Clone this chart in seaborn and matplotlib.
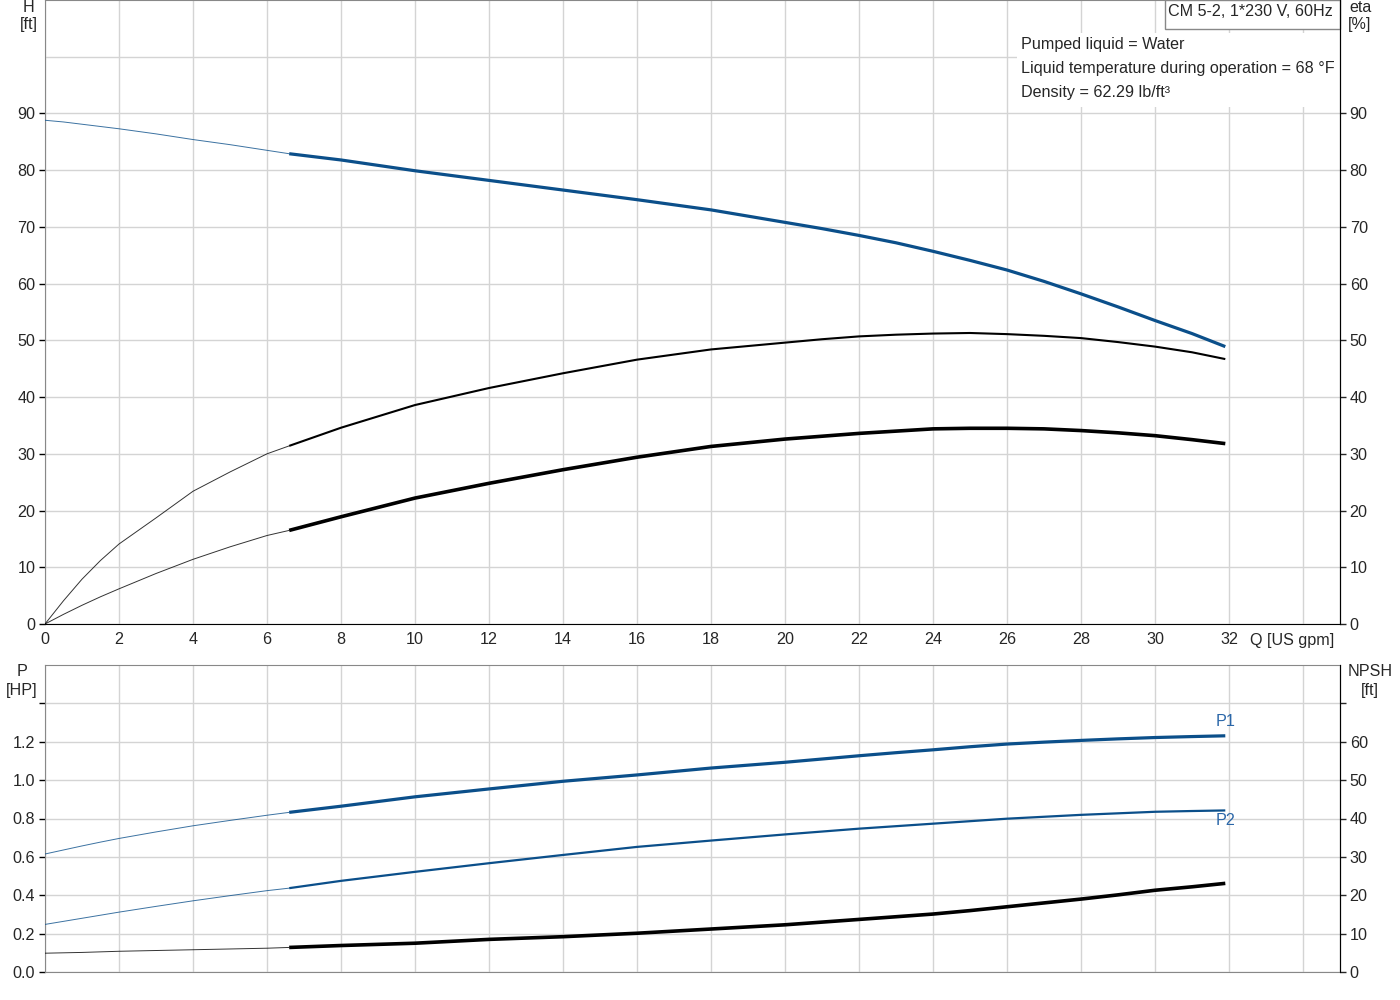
import numpy as np
import pandas as pd
import matplotlib
matplotlib.use("Agg")
import matplotlib.pyplot as plt
from matplotlib.patches import Rectangle
import seaborn as sns

# flow points (US gpm); thick part starts at 6.6 gpm
q = [0, 0.5, 1, 1.5, 2, 3, 4, 5, 6, 6.6, 8, 10, 12, 14, 16, 18, 20, 21, 22, 23, 24, 25,
     26, 27, 28, 29, 30, 31, 31.9]
head = [88.8, 88.5, 88.1, 87.7, 87.3, 86.4, 85.4, 84.5, 83.5, 82.9, 81.8, 79.9, 78.2,
        76.5, 74.8, 73.0, 70.8, 69.7, 68.5, 67.2, 65.7, 64.1, 62.4, 60.4, 58.2, 55.9,
        53.5, 51.2, 48.9]
eta_pump = [0, 4.1, 7.9, 11.2, 14.1, 18.7, 23.4, 26.8, 30.0, 31.4, 34.6, 38.6, 41.6,
            44.2, 46.6, 48.4, 49.6, 50.2, 50.7, 51.0, 51.2, 51.3, 51.1, 50.8, 50.4, 49.7,
            48.9, 47.9, 46.7]
eta_total = [0, 1.7, 3.3, 4.8, 6.2, 8.9, 11.4, 13.6, 15.6, 16.5, 18.9, 22.2, 24.8, 27.2,
             29.4, 31.3, 32.6, 33.1, 33.6, 34.0, 34.4, 34.5, 34.5, 34.4, 34.1, 33.7,
             33.2, 32.5, 31.8]
p1 = [0.615, 0.636, 0.657, 0.677, 0.696, 0.730, 0.762, 0.790, 0.817, 0.832, 0.864, 0.913,
      0.954, 0.994, 1.027, 1.063, 1.093, 1.110, 1.127, 1.143, 1.158, 1.174, 1.188, 1.198,
      1.207, 1.215, 1.222, 1.227, 1.231]
p2 = [0.248, 0.264, 0.280, 0.296, 0.312, 0.342, 0.371, 0.398, 0.424, 0.437, 0.475, 0.522,
      0.567, 0.610, 0.652, 0.685, 0.717, 0.732, 0.747, 0.760, 0.773, 0.786, 0.799, 0.809,
      0.819, 0.827, 0.835, 0.839, 0.842]
npsh = [4.9, 5.0, 5.1, 5.25, 5.4, 5.6, 5.8, 6.0, 6.2, 6.4, 6.9, 7.5, 8.5, 9.2, 10.1, 11.2,
        12.3, 13.0, 13.7, 14.4, 15.1, 16.0, 17.0, 18.0, 19.0, 20.1, 21.3, 22.2, 23.1]
split = q.index(6.6)

x_ticks = list(range(0, 36, 2))
x_labels = [str(t) for t in x_ticks[:-1]] + [""]
h_ticks = list(range(0, 100, 10))
p_ticks = [0.0, 0.2, 0.4, 0.6, 0.8, 1.0, 1.2, 1.4]
p_labels = ["0.0", "0.2", "0.4", "0.6", "0.8", "1.0", "1.2", ""]
npsh_ticks = list(range(0, 80, 10))
npsh_labels = [str(t) for t in npsh_ticks[:-1]] + [""]

info_lines = ["Pumped liquid = Water",
              "Liquid temperature during operation = 68 °F",
              "Density = 62.29 lb/ft³"]
title_box = "CM 5-2, 1*230 V, 60Hz"

df = pd.DataFrame({"q": q, "head": head, "eta_pump": eta_pump, "eta_total": eta_total,
                   "p1": p1, "p2": p2, "npsh": npsh})

sns.set_style("white")
plt.rcParams["font.family"] = ["Liberation Sans", "DejaVu Sans"]
FS = 11.6
plt.rcParams["font.size"] = FS

BLUE = "#0b4f8a"
LABEL_BLUE = "#2a66a8"
GRID = "#d4d4d4"
W, H = 1400, 1000

fig = plt.figure(figsize=(14, 10), dpi=100)
ax1 = fig.add_axes([45 / W, 1 - 624 / H, 1295 / W, 624 / H])
ax2 = fig.add_axes([45 / W, 1 - 972 / H, 1295 / W, 307 / H])


def draw_curve(ax, col, color, lw):
    thin = df.iloc[:split + 1]
    thick = df.iloc[split:]
    sns.lineplot(data=thin, x="q", y=col, ax=ax, color=color, linewidth=0.7, alpha=0.8,
                 estimator=None, sort=False, zorder=3)
    sns.lineplot(data=thick, x="q", y=col, ax=ax, color=color, linewidth=lw,
                 estimator=None, sort=False, zorder=4, solid_capstyle="butt")


def style_axis(ax, ylim, yticks, ylabels, grid_extra=None):
    ax.set_xlim(0, 35)
    ax.set_ylim(*ylim)
    ax.set_xticks(x_ticks)
    ax.set_yticks(yticks)
    ax.set_yticklabels(ylabels)
    if grid_extra is not None:
        ax.set_yticks(grid_extra, minor=True)
    ax.grid(True, which="both", color=GRID, linewidth=1)
    ax.tick_params(axis="y", which="major", direction="out", length=4, width=1,
                   pad=3, labelsize=FS, left=True, color="black")
    ax.tick_params(axis="y", which="minor", length=0)
    ax.tick_params(axis="x", length=0)
    ax.set_xlabel("")
    ax.set_ylabel("")
    ax.set_axisbelow(True)


# top panel: head and efficiencies
draw_curve(ax1, "head", BLUE, 2.3)
draw_curve(ax1, "eta_pump", "black", 1.5)
draw_curve(ax1, "eta_total", "black", 2.6)
style_axis(ax1, (0, 110), h_ticks, [str(t) for t in h_ticks], grid_extra=[100])
ax1.set_xticklabels(x_labels)
ax1.tick_params(axis="x", pad=6, labelsize=FS)
for s in ["left", "top"]:
    ax1.spines[s].set_color("#888888")
ax1.spines["bottom"].set_color("black")
ax1.spines["right"].set_color("black")

ax1r = ax1.twinx()
ax1r.set_ylim(0, 110)
ax1r.set_yticks(h_ticks)
ax1r.set_yticklabels([str(t) for t in h_ticks])
ax1r.tick_params(axis="y", direction="out", length=4, width=1, pad=3, labelsize=FS,
                 right=True)
for s in ["left", "top", "bottom"]:
    ax1r.spines[s].set_visible(False)
ax1r.spines["right"].set_color("black")

# white info panel hiding the grid, and the model box
ax1.add_patch(Rectangle(((1017 - 45) / 1295, 1 - 107 / 624), (1340 - 1017) / 1295,
                        (107 - 33) / 624, transform=ax1.transAxes, facecolor="white",
                        edgecolor="none", zorder=2))
for i, line in enumerate(info_lines):
    ax1.text((1021 - 45) / 1295, 1 - (44 + 24 * i) / 624, line, transform=ax1.transAxes,
             ha="left", va="center", fontsize=FS, zorder=5)
ax1.add_patch(Rectangle(((1165 - 45) / 1295, 1 - 29 / 624), (1340 - 1165) / 1295,
                        29 / 624, transform=ax1.transAxes, facecolor="white",
                        edgecolor="#888888", linewidth=1, zorder=5, clip_on=False))
ax1.text((1333 - 45) / 1295, 1 - 12 / 624, title_box, transform=ax1.transAxes,
         ha="right", va="center", fontsize=FS, zorder=6)
fig.text(1250 / W, 1 - 640 / H, "Q [US gpm]", ha="left", va="center", fontsize=FS)

# bottom panel: power and NPSH
draw_curve(ax2, "p1", BLUE, 2.3)
draw_curve(ax2, "p2", BLUE, 1.6)
style_axis(ax2, (0, 1.6), p_ticks, p_labels)
ax2.set_xticklabels([])
for s in ["left", "top", "bottom"]:
    ax2.spines[s].set_color("#888888")
ax2.spines["right"].set_color("black")
ax2.text(31.9, 1.304, "P1", color=LABEL_BLUE, ha="center", va="center", fontsize=FS)
ax2.text(31.9, 0.79, "P2", color=LABEL_BLUE, ha="center", va="center", fontsize=FS)

ax2r = ax2.twinx()
draw_curve(ax2r, "npsh", "black", 2.6)
ax2r.set_ylim(0, 80)
ax2r.set_yticks(npsh_ticks)
ax2r.set_yticklabels(npsh_labels)
ax2r.set_ylabel("")
ax2r.tick_params(axis="y", direction="out", length=4, width=1, pad=3, labelsize=FS,
                 right=True)
for s in ["left", "top", "bottom"]:
    ax2r.spines[s].set_visible(False)
ax2r.spines["right"].set_color("black")

# axis titles
fig.text(29 / W, 1 - 7 / H, "H", ha="center", va="center", fontsize=FS)
fig.text(29 / W, 1 - 25 / H, "[ft]", ha="center", va="center", fontsize=FS)
fig.text(1360 / W, 1 - 7 / H, "eta", ha="center", va="center", fontsize=FS)
fig.text(1360 / W, 1 - 25 / H, "[%]", ha="center", va="center", fontsize=FS)
fig.text(22 / W, 1 - 672 / H, "P", ha="center", va="center", fontsize=FS)
fig.text(22 / W, 1 - 690 / H, "[HP]", ha="center", va="center", fontsize=FS)
fig.text(1370 / W, 1 - 672 / H, "NPSH", ha="center", va="center", fontsize=FS)
fig.text(1370 / W, 1 - 690 / H, "[ft]", ha="center", va="center", fontsize=FS)

fig.savefig("out.png", dpi=100, facecolor="white")
